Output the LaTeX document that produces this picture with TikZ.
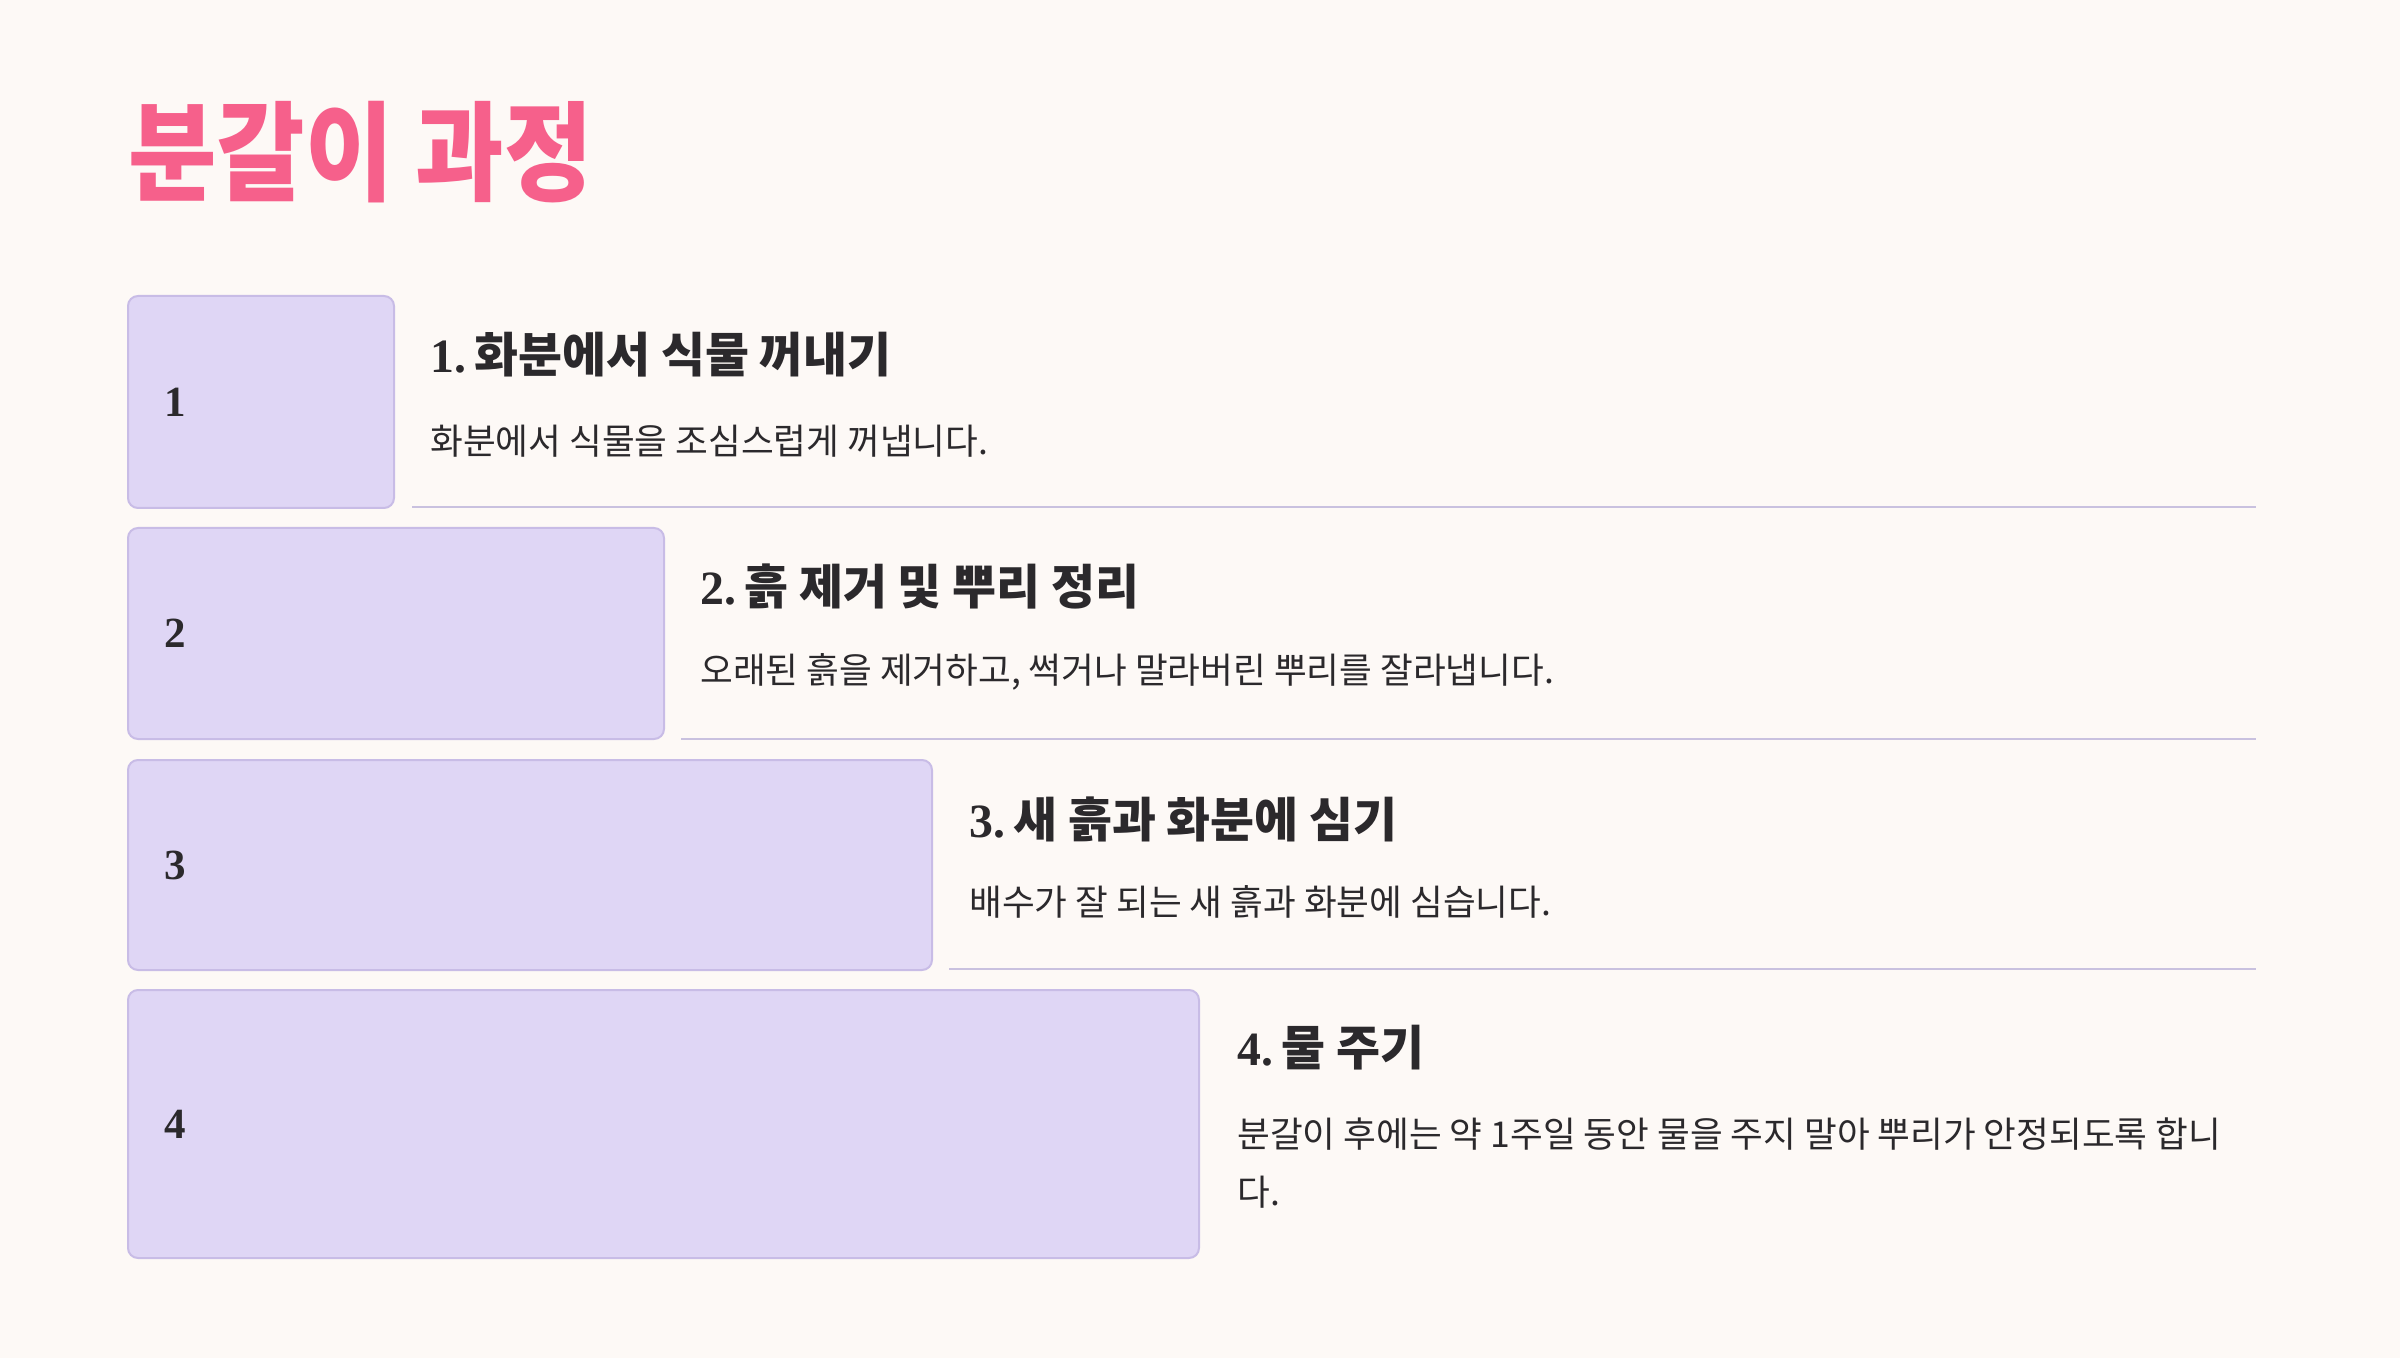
\documentclass[tikz,border=0pt]{standalone}
\usepackage{fontspec}
\setmainfont{Liberation Serif}
\newfontfamily\krfont{Noto Sans CJK KR}
\newfontfamily\krtitle[FakeStretch=0.89]{Noto Sans CJK KR}
\definecolor{pagebg}{HTML}{FDF9F6}
\definecolor{boxfill}{HTML}{DFD6F5}
\definecolor{boxedge}{HTML}{C8BCE6}
\definecolor{rulecol}{HTML}{C9C1DF}
\definecolor{inkdark}{HTML}{2B292C}
\definecolor{titlepink}{HTML}{F6608B}
\tikzset{
  numbox/.style={draw=boxedge,fill=boxfill,line width=1pt,rounded corners=5pt,anchor=north west,inner sep=0pt},
  numlabel/.style={anchor=west,inner sep=0pt,text=inkdark,font=\bfseries\fontsize{21.5}{24}\selectfont},
  steptitle/.style={anchor=west,inner sep=0pt,text=inkdark,font=\fontsize{23.9}{26}\selectfont},
  stepdesc/.style={anchor=west,inner sep=0pt,text=inkdark,align=left,font=\krfont\fontsize{17.8}{29}\selectfont},
  divider/.style={draw=rulecol,line width=1pt}
}
\begin{document}
\begin{tikzpicture}[x=0.5pt,y=-0.5pt]
\fill[pagebg] (0,0) rectangle (2400,1358);
\node[anchor=west,inner sep=0pt,text=titlepink,font=\krtitle\bfseries\fontsize{54}{60}\selectfont] (title) at (128,152) {분갈이 과정};
% number boxes
\node[numbox,minimum width=133pt,minimum height=106pt] (box1) at (127,295) {};
\node[numbox,minimum width=268pt,minimum height=105.5pt] (box2) at (127,527) {};
\node[numbox,minimum width=402pt,minimum height=105pt] (box3) at (127,759) {};
\node[numbox,minimum width=535.5pt,minimum height=134pt] (box4) at (127,989) {};
\node[numlabel] (num1) at ([xshift=18.5pt]box1.west) {1};
\node[numlabel] (num2) at ([xshift=18.5pt]box2.west) {2};
\node[numlabel] (num3) at ([xshift=18.5pt]box3.west) {3};
\node[numlabel] (num4) at ([xshift=18.5pt]box4.west) {4};
% steps
\node[steptitle] (head1) at (430,355) {\textbf{1.}\,{\krfont\bfseries 화분에서 식물 꺼내기}};
\node[stepdesc] (desc1) at (430,441) {화분에서 식물을 조심스럽게 꺼냅니다.};
\draw[divider] (412,507) -- (2256,507);
\node[steptitle] (head2) at (700,586) {\textbf{2.}\,{\krfont\bfseries 흙 제거 및 뿌리 정리}};
\node[stepdesc] (desc2) at (700,672) {오래된 흙을 제거하고, 썩거나 말라버린 뿌리를 잘라냅니다.};
\draw[divider] (681,739) -- (2256,739);
\node[steptitle] (head3) at (969,819) {\textbf{3.}\,{\krfont\bfseries 새 흙과 화분에 심기}};
\node[stepdesc] (desc3) at (969,902) {배수가 잘 되는 새 흙과 화분에 심습니다.};
\draw[divider] (949,969) -- (2256,969);
\node[steptitle] (head4) at (1237,1048) {\textbf{4.}\,{\krfont\bfseries 물 주기}};
\node[stepdesc] (desc4) at (1237,1163) {분갈이 후에는 약 1주일 동안 물을 주지 말아 뿌리가 안정되도록 합니\\다.};
\end{tikzpicture}
\end{document}
